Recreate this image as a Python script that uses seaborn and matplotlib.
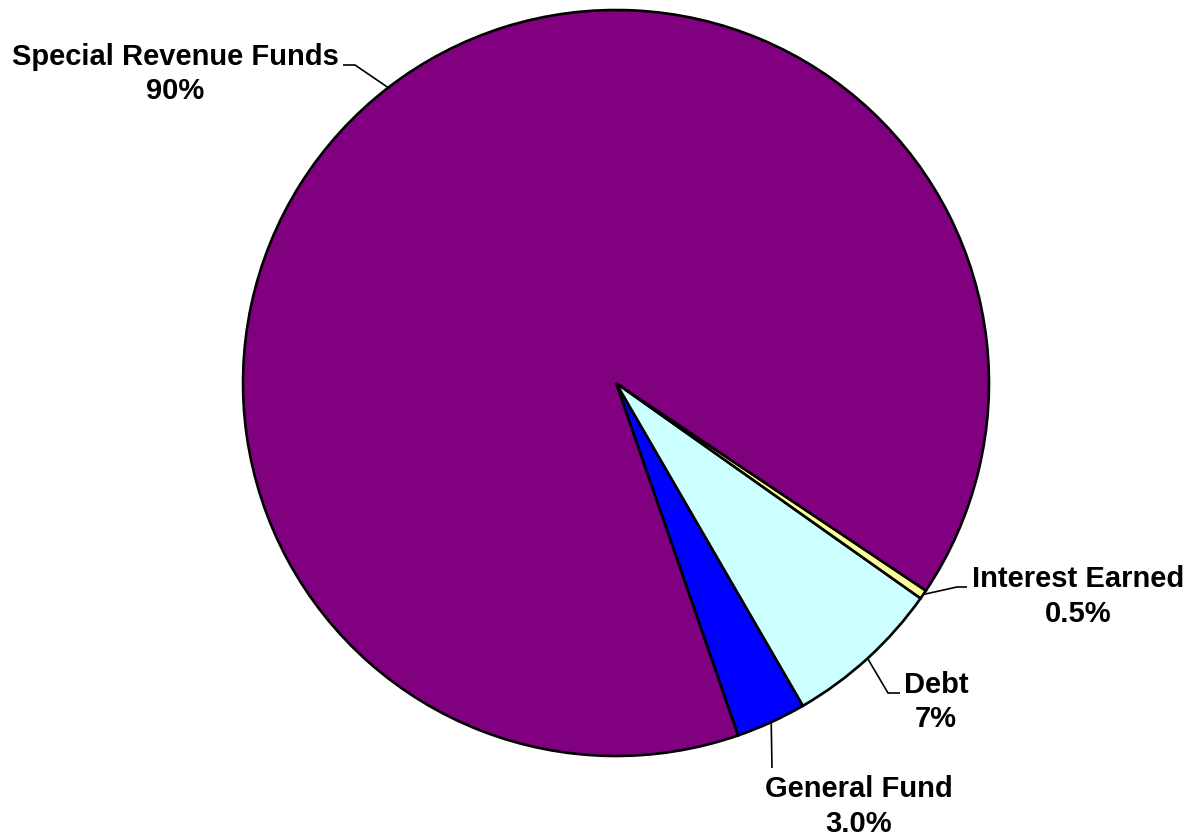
import numpy as np
import matplotlib
matplotlib.use("Agg")
import matplotlib.pyplot as plt
import seaborn as sns

# ---- data ----
categories = ["General Fund", "Debt", "Interest Earned", "Special Revenue Funds"]
values = [3.05, 6.85, 0.4, 89.7]
pct_labels = ["3.0%", "7%", "0.5%", "90%"]
colors = ["#0000FF", "#CCFFFF", "#FFFF99", "#800080"]

sns.set_theme(style="white")
plt.rcParams['font.family'] = ['Liberation Sans', 'DejaVu Sans']

W, H = 1193, 840
fig = plt.figure(figsize=(W / 100, H / 100), dpi=100)
ax = fig.add_axes([0, 0, 1, 1])

cx, cy_top, R = 616, 383, 373
cy = H - cy_top
start = -70.9

wedges, _ = ax.pie(values, colors=colors, startangle=start, counterclock=True,
                   center=(cx, cy), radius=R, frame=True,
                   wedgeprops=dict(edgecolor="black", linewidth=1.9))
ax.set_xlim(0, W)
ax.set_ylim(0, H)
ax.set_aspect("equal")
ax.axis("off")

# label layout (pixel coords from top): elbow points and text baselines
layout = {
    "General Fund": dict(path=[(772, 768)], tx=859, b1=797, b2=832),
    "Debt": dict(path=[(888, 693), (900, 693)], tx=936, b1=693, b2=727),
    "Interest Earned": dict(path=[(957, 587), (967, 587)], tx=1078, b1=587, b2=622),
    "Special Revenue Funds": dict(path=[(355, 65), (343, 65)], tx=175, b1=65, b2=99),
}

fs = 21
for w, name, pct in zip(wedges, categories, pct_labels):
    mid = np.deg2rad((w.theta1 + w.theta2) / 2)
    x0 = cx + R * np.cos(mid)
    y0 = cy + R * np.sin(mid)
    lay = layout[name]
    xs = [x0] + [p[0] for p in lay["path"]]
    ys = [y0] + [H - p[1] for p in lay["path"]]
    ax.plot(xs, ys, color="black", linewidth=1.2, solid_capstyle="butt")
    ax.text(lay["tx"], H - lay["b1"], name, ha="center", va="baseline",
            fontsize=fs, fontweight="bold", color="black")
    ax.text(lay["tx"], H - lay["b2"], pct, ha="center", va="baseline",
            fontsize=fs, fontweight="bold", color="black")

fig.savefig("out.png", dpi=100, facecolor="white")
